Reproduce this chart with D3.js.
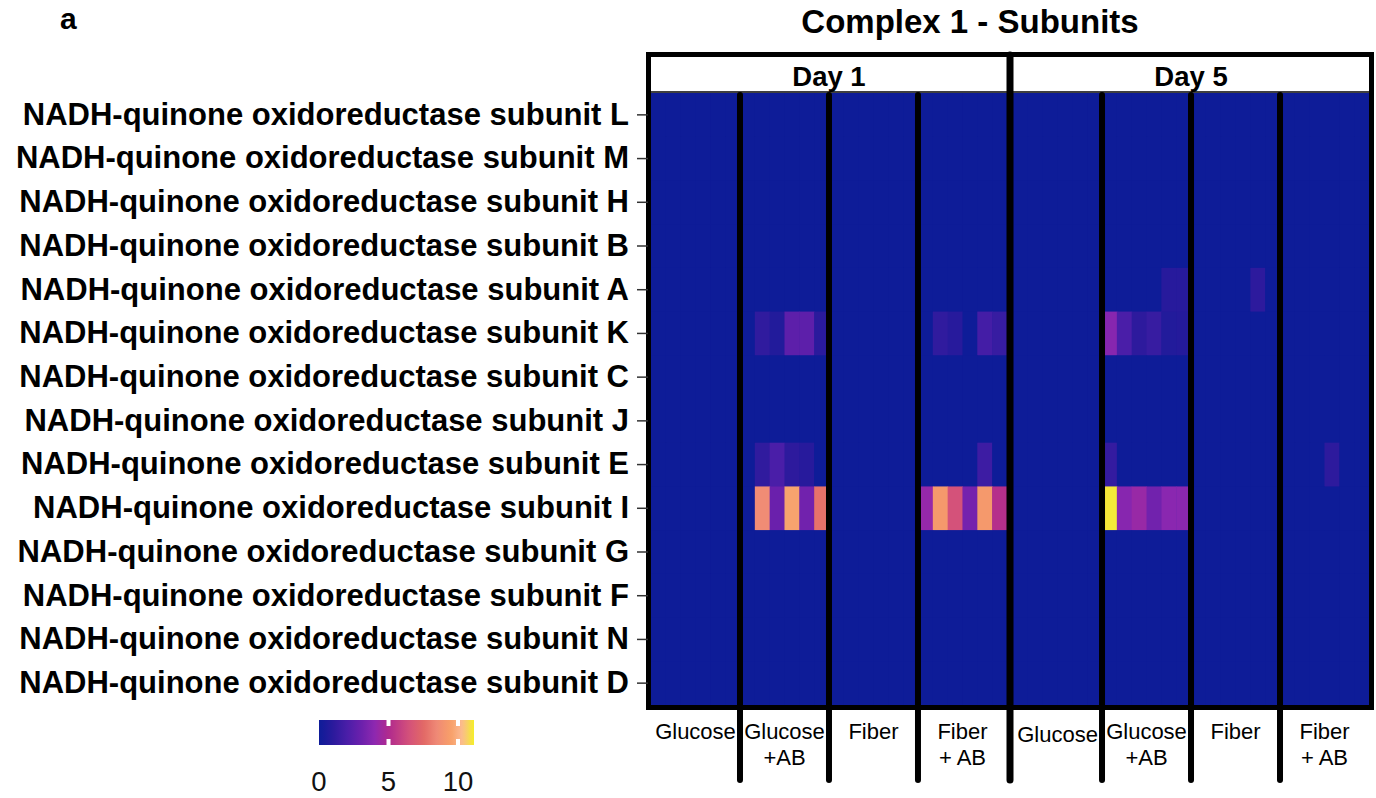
<!DOCTYPE html>
<html>
<head>
<meta charset="utf-8">
<script src="https://cdn.jsdelivr.net/npm/d3@7"></script>
<style>
  html, body { margin: 0; padding: 0; background: #fff; }
  svg { display: block; font-family: "Liberation Sans", Arial, Helvetica, sans-serif; }
</style>
</head>
<body>
<svg id="chart" width="1376" height="798"></svg>
<script>
// ---------------- DATA ----------------
const subunits = ["L", "M", "H", "B", "A", "K", "C", "J", "E", "I", "G", "F", "N", "D"]
  .map(s => "NADH-quinone oxidoreductase subunit " + s);
const days = ["Day 1", "Day 5"];
const treatments = ["Glucose", "Glucose\n+AB", "Fiber", "Fiber\n+ AB"];
const replicates = [1, 2, 3, 4, 5, 6];

// values per subunit: Day 1 (4 treatments x 6 replicates) then Day 5 (4 x 6)
const rowL = [0,0,0,0,0,0, 0,0,0,0,0,0, 0,0,0,0,0,0, 0,0,0,0,0,0,   0,0,0,0,0,0, 0,0,0,0,0,0, 0,0,0,0,0,0, 0,0,0,0,0,0];
const rowM = [0,0,0,0,0,0, 0,0,0,0,0,0, 0,0,0,0,0,0, 0,0,0,0,0,0,   0,0,0,0,0,0, 0,0,0,0,0,0, 0,0,0,0,0,0, 0,0,0,0,0,0];
const rowH = [0,0,0,0,0,0, 0,0,0,0,0,0, 0,0,0,0,0,0, 0,0,0,0,0,0,   0,0,0,0,0,0, 0,0,0,0,0,0, 0,0,0,0,0,0, 0,0,0,0,0,0];
const rowB = [0,0,0,0,0,0, 0,0,0,0,0,0, 0,0,0,0,0,0, 0,0,0,0,0,0,   0,0,0,0,0,0, 0,0,0,0,0,0, 0,0,0,0,0,0, 0,0,0,0,0,0];
const rowA = [0,0,0,0,0,0, 0,0,0,0,0,0, 0,0,0,0,0,0, 0,0,0,0,0,0,   0,0,0,0,0,0, 0,0,0,0,0.9,0.9, 0,0,0,0,1.1,0, 0,0,0,0,0,0];
const rowK = [0,0,0,0,0,0, 0,1.2,0.7,2.6,2.6,1.0, 0,0,0,0,0,0, 0,1.2,0.9,0,1.8,1.4,   0,0,0,0,0,0, 3.8,2.0,1.1,1.4,0.7,0.8, 0,0,0,0,0,0, 0,0,0,0,0,0];
const rowC = [0,0,0,0,0,0, 0,0,0,0,0,0, 0,0,0,0,0,0, 0,0,0,0,0,0,   0,0,0,0,0,0, 0,0,0,0,0,0, 0,0,0,0,0,0, 0,0,0,0,0,0];
const rowJ = [0,0,0,0,0,0, 0,0,0,0,0,0, 0,0,0,0,0,0, 0,0,0,0,0,0,   0,0,0,0,0,0, 0,0,0,0,0,0, 0,0,0,0,0,0, 0,0,0,0,0,0];
const rowE = [0,0,0,0,0,0, 0,1.2,2.0,1.1,0.9,0, 0,0,0,0,0,0, 0,0,0,0,1.6,0,   0,0,0,0,0,0, 1.3,0,0,0,0,0, 0,0,0,0,0,0, 0,0,0,1.1,0,0];
const rowI = [0,0,0,0,0,0, 0,8.6,3.0,9.6,3.2,7.8, 0,0,0,0,0,0, 4.2,9.2,6.5,3.3,9.2,5.2,   0,0,0,0,0,0, 11.0,3.8,4.3,3.2,3.9,3.9, 0,0,0,0,0,0, 0,0,0,0,0,0];
const rowG = [0,0,0,0,0,0, 0,0,0,0,0,0, 0,0,0,0,0,0, 0,0,0,0,0,0,   0,0,0,0,0,0, 0,0,0,0,0,0, 0,0,0,0,0,0, 0,0,0,0,0,0];
const rowF = [0,0,0,0,0,0, 0,0,0,0,0,0, 0,0,0,0,0,0, 0,0,0,0,0,0,   0,0,0,0,0,0, 0,0,0,0,0,0, 0,0,0,0,0,0, 0,0,0,0,0,0];
const rowN = [0,0,0,0,0,0, 0,0,0,0,0,0, 0,0,0,0,0,0, 0,0,0,0,0,0,   0,0,0,0,0,0, 0,0,0,0,0,0, 0,0,0,0,0,0, 0,0,0,0,0,0];
const rowD = [0,0,0,0,0,0, 0,0,0,0,0,0, 0,0,0,0,0,0, 0,0,0,0,0,0,   0,0,0,0,0,0, 0,0,0,0,0,0, 0,0,0,0,0,0, 0,0,0,0,0,0];
const rows = [rowL, rowM, rowH, rowB, rowA, rowK, rowC, rowJ, rowE, rowI, rowG, rowF, rowN, rowD];

const legendTicks = [0, 5, 10];
const legendMax = 11.15;
const colorStops  = [0, 1, 2, 3, 4, 5, 6.5, 7.5, 8.5, 9.5, 10.2, 10.6, 11.1];
const colorValues = ["#0e1c98", "#2a1a9c", "#4a1ea8", "#6a20ac", "#8e28b0", "#b02a8e", "#d4527a",
                     "#e26866", "#ef8a76", "#f8a068", "#fbb890", "#f8cc70", "#f5ee2a"];

// ---------------- LAYOUT ----------------
const svg = d3.select("#chart");
const plotLeft = 651, plotRight = 1369, plotTop = 93, plotBottom = 705;
const color = d3.scaleLinear().domain(colorStops).range(colorValues).interpolate(d3.interpolateRgb).clamp(true);

const xDay = d3.scaleBand().domain(days).range([plotLeft, plotRight]).paddingInner(0.0167);
const nCols = treatments.length * replicates.length;
const xCol = d3.scaleBand().domain(d3.range(nCols)).range([0, xDay.bandwidth()]);
const y = d3.scaleBand().domain(subunits).range([plotTop, plotBottom]);

// cells
const cells = [];
rows.forEach((vals, ri) => {
  vals.forEach((v, ci) => {
    const day = days[Math.floor(ci / nCols)];
    cells.push({ sub: subunits[ri], day, col: ci % nCols, v });
  });
});
svg.append("g").selectAll("rect").data(days).join("rect")
  .attr("x", d => xDay(d)).attr("y", plotTop)
  .attr("width", xDay.bandwidth()).attr("height", plotBottom - plotTop)
  .attr("fill", color(0));
svg.append("g").selectAll("rect").data(cells).join("rect")
  .attr("x", d => xDay(d.day) + xCol(d.col))
  .attr("y", d => y(d.sub))
  .attr("width", xCol.bandwidth() + 0.5)
  .attr("height", y.bandwidth() + 0.5)
  .attr("fill", d => color(d.v));

// strip
const stripTop = 55, stripBottom = 92;
svg.append("rect").attr("x", plotLeft).attr("y", stripTop).attr("width", plotRight - plotLeft)
  .attr("height", stripBottom - stripTop).attr("fill", "#fff");
svg.append("line").attr("x1", plotLeft).attr("x2", plotRight).attr("y1", stripBottom).attr("y2", stripBottom)
  .attr("stroke", "#000").attr("stroke-width", 1.5);
svg.append("g").selectAll("text").data(days).join("text")
  .attr("x", d => xDay(d) + xDay.bandwidth() / 2).attr("y", 86)
  .attr("text-anchor", "middle").attr("font-size", 27.5).attr("font-weight", "bold")
  .text(d => d);

// outer border
svg.append("rect").attr("x", 648.5).attr("y", 54.5).attr("width", 1371.5 - 648.5).attr("height", 707.5 - 54.5)
  .attr("fill", "none").attr("stroke", "#000").attr("stroke-width", 5);

// separators between treatments and days
const sepBottom = 780;
const seps = [];
days.forEach(d => {
  for (let t = 1; t < treatments.length; t++) seps.push({ x: xDay(d) + xCol(t * replicates.length), top: plotTop + 2, w: 6 });
});
seps.push({ x: (xDay(days[0]) + xDay.bandwidth() + xDay(days[1])) / 2, top: 55, w: 7 });
svg.append("g").selectAll("line").data(seps).join("line")
  .attr("x1", d => d.x).attr("x2", d => d.x)
  .attr("y1", d => d.top).attr("y2", sepBottom)
  .attr("stroke", "#000").attr("stroke-width", d => d.w).attr("stroke-linecap", "round");

// y axis
const yAxis = svg.append("g").attr("transform", `translate(${plotLeft - 3},0)`)
  .call(d3.axisLeft(y).tickSize(11).tickPadding(8));
yAxis.select(".domain").remove();
yAxis.selectAll(".tick line").attr("stroke", "#333").attr("stroke-width", 1.5);
yAxis.selectAll(".tick text").attr("font-size", 31).attr("font-weight", "bold").attr("fill", "#000")
  .attr("font-family", "\"Liberation Sans\", Arial, sans-serif");

// x labels
const xLabels = [];
days.forEach((d, di) => treatments.forEach((t, ti) => {
  xLabels.push({ x: xDay(d) + xCol(ti * replicates.length) + xCol.bandwidth() * replicates.length / 2, t, di });
}));
const xl = svg.append("g").selectAll("text").data(xLabels).join("text")
  .attr("x", d => d.x).attr("y", d => (d.t === "Glucose" && d.di === 1) ? 742 : 739)
  .attr("text-anchor", "middle").attr("font-size", 22).attr("fill", "#000");
xl.each(function(d) {
  const parts = d.t.split("\n");
  d3.select(this).selectAll("tspan").data(parts).join("tspan")
    .attr("x", d.x).attr("dy", (p, i) => i === 0 ? 0 : 26).text(p => p);
});

// title
svg.append("text").attr("x", 970).attr("y", 33).attr("text-anchor", "middle")
  .attr("font-size", 33).attr("font-weight", "bold").text("Complex 1 - Subunits");

// panel label
svg.append("text").attr("x", 60).attr("y", 29).attr("font-size", 30).attr("font-weight", "bold").text("a");

// legend
const lx = d3.scaleLinear().domain([0, legendMax]).range([319, 474]);
const defs = svg.append("defs");
const grad = defs.append("linearGradient").attr("id", "lg").attr("x1", "0%").attr("x2", "100%");
d3.range(0, 51).forEach(i => {
  const v = legendMax * i / 50;
  grad.append("stop").attr("offset", (i * 2) + "%").attr("stop-color", color(v));
});
const lTop = 720, lH = 25;
svg.append("rect").attr("x", lx(0)).attr("y", lTop).attr("width", lx(legendMax) - lx(0)).attr("height", lH)
  .attr("fill", "url(#lg)");
const lt = legendTicks.filter(t => t > 0);
svg.append("g").selectAll("rect").data(lt).join("rect")
  .attr("x", d => lx(d) - 2).attr("y", lTop).attr("width", 4).attr("height", 6).attr("fill", "#fff");
svg.append("g").selectAll("rect").data(lt).join("rect")
  .attr("x", d => lx(d) - 2).attr("y", lTop + lH - 6).attr("width", 4).attr("height", 6).attr("fill", "#fff");
svg.append("g").selectAll("text").data(legendTicks).join("text")
  .attr("x", d => lx(d)).attr("y", 791).attr("text-anchor", "middle").attr("font-size", 27.5).attr("fill", "#111")
  .text(d => d);
</script>
</body>
</html>
